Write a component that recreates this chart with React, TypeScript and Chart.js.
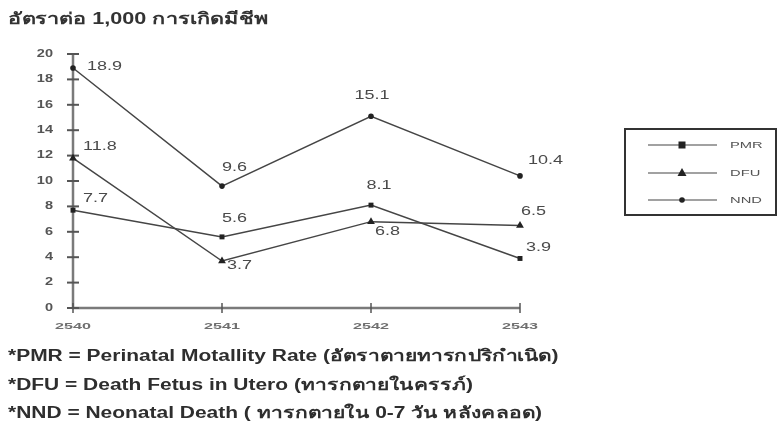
import { useEffect, useRef } from "react";
import { Chart, registerables } from "chart.js";

Chart.register(...registerables);

// Rates per 1,000 live births, fiscal years 2540–2543
const years = ["2540", "2541", "2542", "2543"];
const pmrValues = [7.7, 5.6, 8.1, 3.9];
const dfuValues = [11.8, 3.7, 6.8, 6.5];
const nndValues = [18.9, 9.6, 15.1, 10.4];
const seriesNames = ["PMR", "DFU", "NND"];
const yMin = 0;
const yMax = 20;
const yStep = 2;

const titleText = "อัตราต่อ 1,000 การเกิดมีชีพ";
const footnotes = [
  "*PMR = Perinatal Motallity Rate (อัตราตายทารกปริกำเนิด)",
  "*DFU = Death Fetus in Utero (ทารกตายในครรภ์)",
  "*NND = Neonatal Death ( ทารกตายใน 0-7 วัน หลังคลอด)",
];

// Placement of each value label relative to its point: [dx, dy, textAlign]
type Place = [number, number, CanvasTextAlign];
const labelPlacement: Place[][] = [
  [[10, -12, "left"], [0, -18, "left"], [8, -19, "center"], [6, -11, "left"]],
  [[10, -11, "left"], [5, 5, "left"], [4, 10, "left"], [1, -14, "left"]],
  [[14, -1, "left"], [0, -18, "left"], [1, -21, "center"], [8, -15, "left"]],
];

const FONT = "'Liberation Sans', Arial, sans-serif";
const LINE = "#454545";
const AXIS = "#7a7a7a";

// Draws text with a horizontal stretch (the lettering is wide and flat)
function wideText(
  ctx: CanvasRenderingContext2D,
  text: string,
  x: number,
  y: number,
  align: CanvasTextAlign,
  size: number,
  stretch: number,
  color: string,
  weight = "normal"
) {
  ctx.save();
  ctx.font = `${weight} ${size}px ${FONT}`;
  ctx.fillStyle = color;
  ctx.textBaseline = "middle";
  ctx.textAlign = align;
  ctx.translate(x, y);
  ctx.scale(stretch, 1);
  ctx.fillText(text, 0, 0);
  ctx.restore();
}

const decorPlugin = {
  id: "decor",
  beforeDatasetsDraw(chart: any) {
    const { ctx, chartArea } = chart;
    const x = chart.scales.x;
    const y = chart.scales.y;
    ctx.save();
    ctx.strokeStyle = AXIS;
    ctx.lineWidth = 2.5;
    ctx.beginPath();
    ctx.moveTo(chartArea.left, chartArea.top);
    ctx.lineTo(chartArea.left, chartArea.bottom);
    ctx.lineTo(chartArea.right, chartArea.bottom);
    ctx.stroke();
    ctx.strokeStyle = "#555";
    ctx.lineWidth = 2;
    y.ticks.forEach((t: any) => {
      const py = y.getPixelForValue(t.value);
      ctx.beginPath();
      ctx.moveTo(chartArea.left - 6, py);
      ctx.lineTo(chartArea.left + 6, py);
      ctx.stroke();
      wideText(ctx, String(t.value), chartArea.left - 20, py, "right", 10, 1.45, "#555", "bold");
    });
    ctx.lineWidth = 1.5;
    years.forEach((lab, i) => {
      const px = x.getPixelForValue(i);
      ctx.beginPath();
      ctx.moveTo(px, chartArea.bottom - 5);
      ctx.lineTo(px, chartArea.bottom + 5);
      ctx.stroke();
      wideText(ctx, lab, px, chartArea.bottom + 18, "center", 9.5, 1.7, "#707070", "bold");
    });
    ctx.restore();
  },
  afterDatasetsDraw(chart: any) {
    const { ctx } = chart;
    chart.data.datasets.forEach((ds: any, di: number) => {
      const meta = chart.getDatasetMeta(di);
      meta.data.forEach((pt: any, j: number) => {
        const [dx, dy, align] = labelPlacement[di][j];
        wideText(ctx, ds.data[j].toFixed(1), pt.x + dx, pt.y + dy, align, 12, 1.5, "#4a4a4a");
      });
    });
  },
  afterDraw(chart: any) {
    const { ctx } = chart;
    const box = { left: 625, top: 129, right: 776, bottom: 215 };
    ctx.save();
    ctx.strokeStyle = "#333";
    ctx.lineWidth = 2;
    ctx.strokeRect(box.left, box.top, box.right - box.left, box.bottom - box.top);
    const rows = [145, 173, 200];
    chart.data.datasets.forEach((ds: any, i: number) => {
      const yy = rows[i];
      ctx.strokeStyle = LINE;
      ctx.lineWidth = 1.2;
      ctx.beginPath();
      ctx.moveTo(648, yy);
      ctx.lineTo(717, yy);
      ctx.stroke();
      ctx.fillStyle = "#222";
      const cx = 682;
      if (ds.pointStyle === "rect") {
        ctx.fillRect(cx - 3.5, yy - 3.5, 7, 7);
      } else if (ds.pointStyle === "triangle") {
        ctx.beginPath();
        ctx.moveTo(cx, yy - 5);
        ctx.lineTo(cx + 4.5, yy + 3);
        ctx.lineTo(cx - 4.5, yy + 3);
        ctx.closePath();
        ctx.fill();
      } else {
        ctx.beginPath();
        ctx.arc(cx, yy, 2.8, 0, Math.PI * 2);
        ctx.fill();
      }
      wideText(ctx, ds.label, 730, yy, "left", 9.5, 1.55, "#555");
    });
    ctx.restore();
  },
};

export default function App() {
  const ref = useRef<HTMLCanvasElement | null>(null);

  useEffect(() => {
    if (!ref.current) return;
    const series = [pmrValues, dfuValues, nndValues];
    const styles = ["rect", "triangle", "circle"];
    const radii = [3.5, 4.5, 2.8];
    const chart = new Chart(ref.current, {
      type: "line",
      data: {
        labels: years,
        datasets: series.map((vals, i) => ({
          label: seriesNames[i],
          data: vals,
          borderColor: LINE,
          borderWidth: 1.5,
          backgroundColor: "#222",
          pointBackgroundColor: "#222",
          pointBorderColor: "#222",
          pointBorderWidth: 0,
          pointStyle: styles[i] as any,
          pointRadius: radii[i],
          tension: 0,
          fill: false,
          clip: false as any,
        })),
      },
      options: {
        responsive: false,
        animation: false,
        layout: { padding: { top: 54, right: 258, bottom: 0, left: 0 } },
        plugins: { legend: { display: false }, tooltip: { enabled: false } },
        scales: {
          x: {
            offset: false,
            grid: { display: false, drawTicks: false },
            border: { display: false },
            ticks: { display: false },
            afterFit: (s: any) => {
              s.height = 122;
            },
          },
          y: {
            min: yMin,
            max: yMax,
            grid: { display: false, drawTicks: false },
            border: { display: false },
            ticks: { stepSize: yStep, display: false },
            afterFit: (s: any) => {
              s.width = 73;
            },
          },
        },
      },
      plugins: [decorPlugin],
    });
    return () => chart.destroy();
  }, []);

  const textStyle = {
    position: "absolute" as const,
    left: 8,
    fontFamily: FONT,
    fontSize: 16,
    fontWeight: 700,
    color: "#2e2e2e",
    whiteSpace: "nowrap" as const,
    transformOrigin: "left top",
    transform: "scaleX(1.31)",
  };

  return (
    <div style={{ position: "absolute", left: 0, top: 0, width: 778, height: 430, background: "#fff" }}>
      <canvas ref={ref} width={778} height={430} style={{ position: "absolute", left: 0, top: 0 }} />
      <div style={{ ...textStyle, top: 6, color: "#333", transform: "scaleX(1.35)" }}>{titleText}</div>
      {footnotes.map((t, i) => (
        <div key={i} style={{ ...textStyle, top: 343 + i * 28.5 }}>
          {t}
        </div>
      ))}
    </div>
  );
}
